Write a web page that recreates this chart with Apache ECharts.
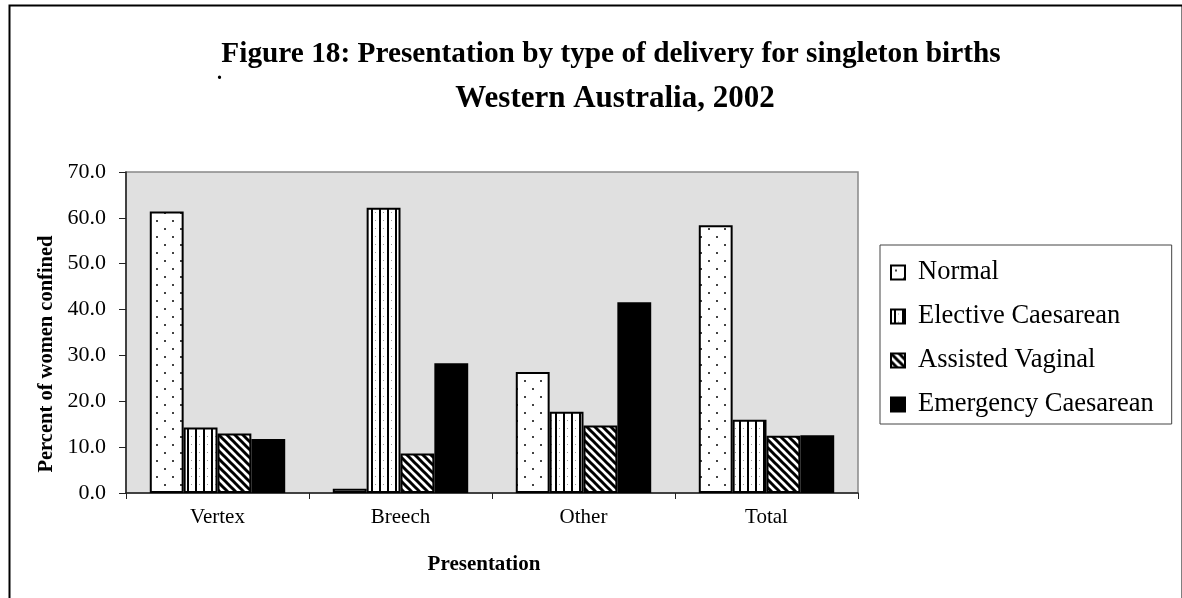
<!DOCTYPE html>
<html>
<head>
<meta charset="utf-8">
<script src="https://cdn.jsdelivr.net/npm/echarts@6/dist/echarts.min.js"></script>
<style>
html,body{margin:0;padding:0;background:#fff;}
#chart{width:1182px;height:598px;}
</style>
</head>
<body>
<div id="chart"></div>
<script>
var categories = ['Vertex', 'Breech', 'Other', 'Total'];
var seriesNames = ['Normal', 'Elective Caesarean', 'Assisted Vaginal', 'Emergency Caesarean'];
var normal = [61.4, 0.9, 26.4, 58.4];
var elective = [14.3, 62.2, 17.7, 16.0];
var assisted = [13.0, 8.6, 14.7, 12.5];
var emergency = [11.8, 28.3, 41.6, 12.6];
var yTicks = [0, 10, 20, 30, 40, 50, 60, 70];

var FONT = "'Liberation Serif','Times New Roman',serif";

function tile(w, h, draw) {
  var c = document.createElement('canvas');
  c.width = w; c.height = h;
  var ctx = c.getContext('2d');
  ctx.fillStyle = '#fff';
  ctx.fillRect(0, 0, w, h);
  draw(ctx);
  return { image: c, repeat: 'repeat' };
}
var dotPattern = tile(16, 16, function (ctx) {
  ctx.fillStyle = '#444';
  ctx.fillRect(4, 4, 2, 2);
  ctx.fillRect(12, 12, 2, 2);
});
var vlinePattern = tile(8, 8, function (ctx) {
  ctx.fillStyle = '#000';
  ctx.fillRect(3, 0, 2, 8);
  ctx.fillStyle = '#999';
  ctx.fillRect(7, 4, 1, 1);
});
var diagPattern = tile(8, 8, function (ctx) {
  ctx.strokeStyle = '#000';
  ctx.lineWidth = 3;
  for (var k = -1; k <= 1; k++) {
    ctx.beginPath();
    ctx.moveTo(k * 8 - 2, -2);
    ctx.lineTo(k * 8 + 10, 10);
    ctx.stroke();
  }
});

var fills = [dotPattern, vlinePattern, diagPattern, '#000'];
var datas = [normal, elective, assisted, emergency];

var chart = echarts.init(document.getElementById('chart'), null, { renderer: 'canvas' });
chart.setOption({
  animation: false,
  backgroundColor: '#fff',
  title: [
    { text: 'Figure 18: Presentation by type of delivery for singleton births', left: 606, top: 35, textAlign: 'center',
      textStyle: { fontFamily: FONT, fontWeight: 'bold', fontSize: 29.3, color: '#000' } },
    { text: 'Western Australia, 2002', left: 610, top: 78, textAlign: 'center',
      textStyle: { fontFamily: FONT, fontWeight: 'bold', fontSize: 31, color: '#000' } }
  ],
  graphic: [
    { type: 'rect', left: 7, top: 3, shape: { width: 1173, height: 640 }, style: { fill: 'none', stroke: '#000', lineWidth: 2 }, silent: true },
    { type: 'text', left: 217, top: 64, style: { text: '.', font: 'bold 20px ' + FONT, fill: '#000' } },
    { type: 'text', x: 47, y: 354, rotation: Math.PI / 2,
      style: { text: 'Percent of women confined', font: 'bold 20.5px ' + FONT, fill: '#000', textAlign: 'center', textVerticalAlign: 'middle' } },
    { type: 'text', x: 484, y: 565,
      style: { text: 'Presentation', font: 'bold 21px ' + FONT, fill: '#000', textAlign: 'center', textVerticalAlign: 'middle' } }
  ],
  legend: {
    orient: 'vertical',
    left: 880, top: 245,
    padding: [14, 18, 6, 10],
    itemWidth: 14, itemHeight: 14,
    itemGap: 17,
    borderColor: '#444', borderWidth: 1,
    backgroundColor: '#fff',
    icon: 'rect',
    textStyle: { fontFamily: FONT, fontSize: 26.5, color: '#000', padding: [0, 0, 0, 8] },
    data: seriesNames
  },
  grid: {
    left: 126, right: 324, top: 172, bottom: 105,
    show: true, backgroundColor: '#e0e0e0', borderColor: '#888', borderWidth: 1.5
  },
  xAxis: {
    type: 'category', data: categories,
    axisLine: { lineStyle: { color: '#222', width: 1.5 } },
    axisTick: { show: true, length: 6, lineStyle: { color: '#222' } },
    axisLabel: { fontFamily: FONT, fontSize: 21, color: '#000', margin: 14 },
    splitLine: { show: false }
  },
  yAxis: {
    type: 'value', min: yTicks[0], max: yTicks[yTicks.length - 1], interval: 10,
    axisLine: { show: true, lineStyle: { color: '#222', width: 1.5 } },
    axisTick: { show: true, length: 7, lineStyle: { color: '#222' } },
    axisLabel: { fontFamily: FONT, fontSize: 22, color: '#000', margin: 20,
      formatter: function (v) { return v.toFixed(1); } },
    splitLine: { show: false }
  },
  series: seriesNames.map(function (n, i) {
    return {
      name: n, type: 'bar', data: datas[i],
      barGap: '0%', barCategoryGap: '26%',
      itemStyle: { color: fills[i], borderColor: '#000', borderWidth: 2 }
    };
  })
});
</script>
</body>
</html>
